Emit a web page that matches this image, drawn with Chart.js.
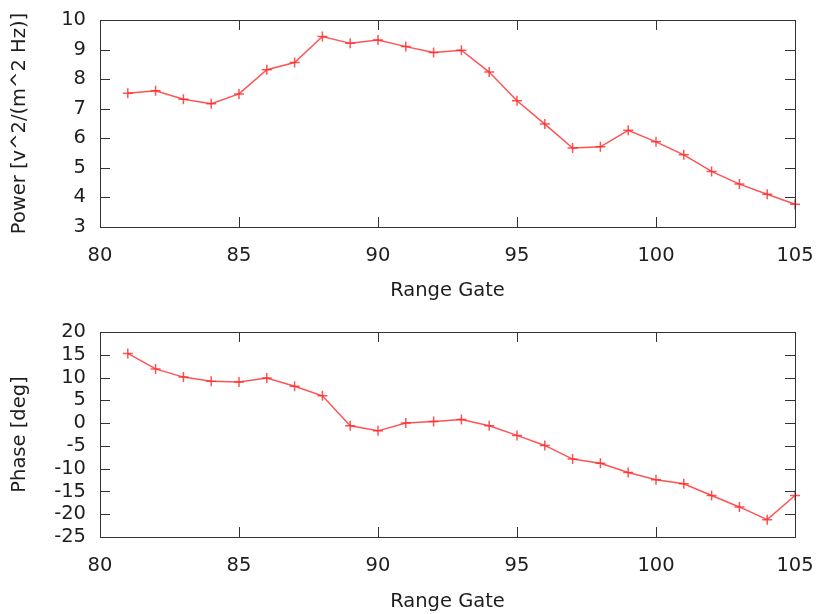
<!DOCTYPE html>
<html>
<head>
<meta charset="utf-8">
<script src="https://cdn.jsdelivr.net/npm/chart.js@4/dist/chart.umd.min.js"></script>
<style>
  html, body { margin: 0; padding: 0; background: #fff; }
  .box { position: absolute; left: 0; width: 818px; height: 307px; }
  #top { top: 0; }
  #bottom { top: 307px; }
</style>
</head>
<body>
<div class="box" id="top"><canvas id="powerChart" width="818" height="307"></canvas></div>
<div class="box" id="bottom"><canvas id="phaseChart" width="818" height="307"></canvas></div>
<script>
// range gates on the x axis
const gates = [81, 82, 83, 84, 85, 86, 87, 88, 89, 90, 91, 92, 93,
               94, 95, 96, 97, 98, 99, 100, 101, 102, 103, 104, 105];

// power values
const power = [7.52, 7.61, 7.32, 7.17, 7.50, 8.32, 8.56, 9.44, 9.21, 9.32, 9.10, 8.90, 8.98,
               8.24, 7.27, 6.48, 5.67, 5.71, 6.27, 5.88, 5.44, 4.88, 4.45, 4.11, 3.77];

// phase values
const phase = [15.3, 11.9, 10.1, 9.2, 9.0, 9.9, 8.1, 6.0, -0.6, -1.7, 0.0, 0.35, 0.8,
               -0.6, -2.7, -4.9, -7.9, -8.8, -10.85, -12.45, -13.3, -15.9, -18.4, -21.2, -15.9];

const xTicks = [80, 85, 90, 95, 100, 105];

const FONT = "'DejaVu Sans', sans-serif";
const SIZE = 19.5;
const TEXT = "#1e1e1e";
const LINE = "rgba(255, 40, 40, 0.8)";

// gnuplot style frame with inward ticks on all four sides
const framePlugin = {
  id: "frame",
  afterDraw(chart) {
    const { ctx, chartArea: a, scales } = chart;
    const len = 10;
    ctx.save();
    ctx.strokeStyle = "#333";
    ctx.lineWidth = 1;
    ctx.beginPath();
    scales.x.ticks.forEach(t => {
      const px = Math.round(scales.x.getPixelForValue(t.value)) + 0.5;
      ctx.moveTo(px, a.bottom); ctx.lineTo(px, a.bottom - len);
      ctx.moveTo(px, a.top); ctx.lineTo(px, a.top + len);
    });
    scales.y.ticks.forEach(t => {
      const py = Math.round(scales.y.getPixelForValue(t.value)) + 0.5;
      ctx.moveTo(a.left, py); ctx.lineTo(a.left + len, py);
      ctx.moveTo(a.right, py); ctx.lineTo(a.right - len, py);
    });
    ctx.stroke();
    ctx.strokeRect(Math.round(a.left) + 0.5, Math.round(a.top) + 0.5,
                   Math.round(a.right - a.left), Math.round(a.bottom - a.top));
    ctx.restore();
  }
};

function makeChart(id, values, yTitle, yMin, yMax, yStep, pad, xHeight, titlePad) {
  const ctx = document.getElementById(id).getContext("2d");
  return new Chart(ctx, {
    type: "line",
    data: {
      datasets: [{
        data: gates.map((g, i) => ({ x: g, y: values[i] })),
        borderColor: LINE,
        borderWidth: 1.5,
        pointStyle: "cross",
        pointRadius: 5,
        pointBorderColor: LINE,
        pointBorderWidth: 1.5,
        tension: 0,
        clip: false
      }]
    },
    options: {
      responsive: false,
      animation: false,
      layout: { padding: pad },
      plugins: { legend: { display: false }, tooltip: { enabled: false } },
      scales: {
        x: {
          type: "linear",
          min: 80,
          max: 105,
          afterBuildTicks: s => { s.ticks = xTicks.map(v => ({ value: v })); },
          afterFit: s => { s.height = xHeight; s.paddingLeft = 0; s.paddingRight = 0; },
          grid: { display: false, drawTicks: false },
          border: { display: false },
          ticks: { color: TEXT, font: { family: FONT, size: SIZE }, padding: 17,
                   maxRotation: 0, autoSkip: false },
          title: { display: true, text: "Range Gate", color: TEXT,
                   font: { family: FONT, size: SIZE }, padding: { top: 4, bottom: titlePad } }
        },
        y: {
          min: yMin,
          max: yMax,
          ticks: { stepSize: yStep, color: TEXT, font: { family: FONT, size: SIZE },
                   padding: 14, autoSkip: false },
          afterFit: s => { s.width = 100 - pad.left; s.paddingTop = 0; s.paddingBottom = 0; },
          grid: { display: false, drawTicks: false },
          border: { display: false },
          title: { display: true, text: yTitle, color: TEXT,
                   font: { family: FONT, size: SIZE }, padding: { top: 0, bottom: 0 } }
        }
      }
    },
    plugins: [framePlugin]
  });
}

makeChart("powerChart", power, "Power [v^2/(m^2 Hz)]", 3, 10, 1,
          { left: 8, right: 23, top: 20, bottom: 0 }, 80, 4);
makeChart("phaseChart", phase, "Phase [deg]", -25, 20, 5,
          { left: 8, right: 23, top: 25, bottom: 0 }, 77, 0);
</script>
</body>
</html>
